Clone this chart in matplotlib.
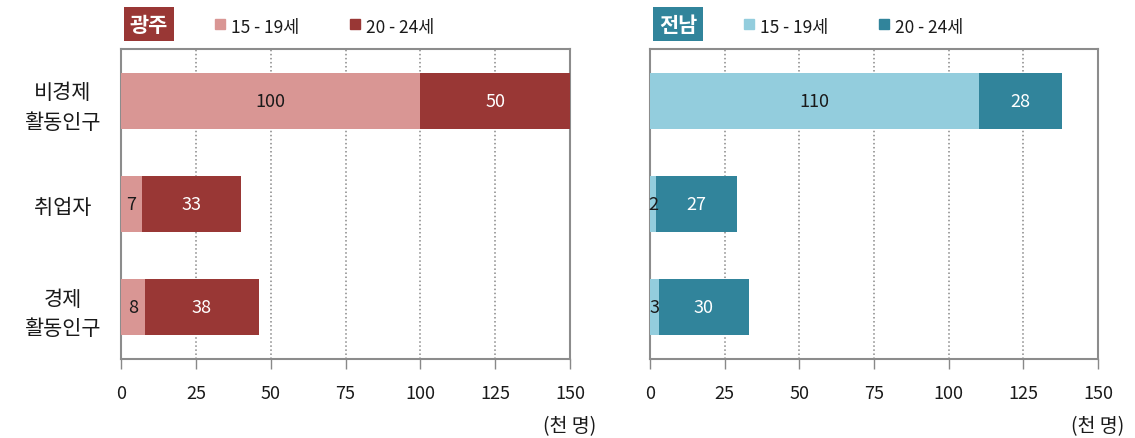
import matplotlib
matplotlib.use("Agg")
import matplotlib.pyplot as plt
from matplotlib.patches import Rectangle

plt.rcParams['font.family'] = ['Noto Sans CJK KR', 'DejaVu Sans']

categories = ["비경제\n활동인구", "취업자", "경제\n활동인구"]
series_names = ["15 - 19세", "20 - 24세"]
regions = ["광주", "전남"]
gj_15_19 = [100, 7, 8]
gj_20_24 = [50, 33, 38]
jn_15_19 = [110, 2, 3]
jn_20_24 = [28, 27, 30]
xticks = [0, 25, 50, 75, 100, 125, 150]
unit_label = "(천 명)"

colors = {
    "광주": ("#D99694", "#993735"),
    "전남": ("#93CDDD", "#31849B"),
}
data = {"광주": (gj_15_19, gj_20_24), "전남": (jn_15_19, jn_20_24)}

W, H = 1135, 439
fig = plt.figure(figsize=(W / 100, H / 100), dpi=100)

def fx(px):
    return px / W

def fy(py):
    return 1 - py / H

axes_px = {"광주": (121, 570), "전남": (650, 1098)}
top_px, bot_px = 50, 360
txt = '#1a1a1a'

for idx, region in enumerate(regions):
    x0, x1 = axes_px[region]
    ax = fig.add_axes([fx(x0), fy(bot_px), fx(x1 - x0), (bot_px - top_px) / H])
    light, dark = colors[region]
    a, b = data[region]
    ypos = list(range(len(categories)))
    ax.barh(ypos, a, height=0.54, color=light, zorder=3)
    ax.barh(ypos, b, left=a, height=0.54, color=dark, zorder=3)
    for i in ypos:
        ax.text(a[i] / 2, i, str(a[i]), ha='center', va='center', fontsize=13,
                color=txt, zorder=4)
        ax.text(a[i] + b[i] / 2, i, str(b[i]), ha='center', va='center', fontsize=13,
                color='white', zorder=4)
    ax.set_xlim(0, 150)
    ax.set_ylim(2.5, -0.5)
    ax.set_xticks(xticks)
    ax.set_xticklabels([str(t) for t in xticks], fontsize=13, color=txt)
    ax.tick_params(axis='x', direction='out', length=7, width=1, color='#888888', pad=11)
    ax.xaxis.grid(True, linestyle=':', color='#888888', linewidth=1.1, zorder=0)
    ax.set_axisbelow(True)
    for s in ax.spines.values():
        s.set_color('#8c8c8c')
        s.set_linewidth(1.5)
    ax.set_yticks(ypos)
    if idx == 0:
        ax.set_yticklabels(categories, fontsize=15, color=txt, linespacing=1.45)
        for lbl in ax.get_yticklabels():
            lbl.set_horizontalalignment('center')
            lbl.set_multialignment('center')
        ax.tick_params(axis='y', length=0, pad=42)
    else:
        ax.set_yticklabels([])
        ax.tick_params(axis='y', length=0)
    ax.text(1.0, -0.215, unit_label, transform=ax.transAxes, ha='center', va='center',
            fontsize=14, color=txt)

    # title box
    fig.text(fx(x0 + 28), fy(25), region, ha='center', va='center', fontsize=15,
             fontweight='bold', color='white',
             bbox=dict(boxstyle='square,pad=0.3', facecolor=dark, edgecolor='none'))
    # legend
    for j, (nm, col) in enumerate(zip(series_names, (light, dark))):
        mx = x0 + 94 + j * 135
        fig.patches.append(Rectangle((fx(mx), fy(30)), fx(10), 10 / H, color=col,
                                     transform=fig.transFigure, figure=fig))
        fig.text(fx(mx + 16), fy(28), nm, ha='left', va='center', fontsize=12.5,
                 color=txt)

fig.savefig("out.png", dpi=100)
